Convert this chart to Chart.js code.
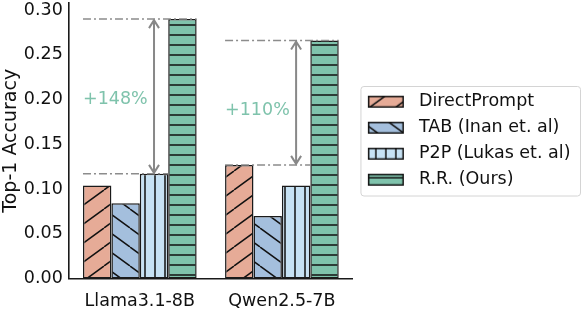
<!DOCTYPE html>
<html lang="en">
<head>
<meta charset="UTF-8">
<title>Top-1 Accuracy</title>
<script src="https://cdn.jsdelivr.net/npm/chart.js"></script>
<style>
  html, body { margin: 0; padding: 0; background: #fff; }
  #wrap { width: 582px; height: 310px; }
</style>
</head>
<body>
<div id="wrap"><canvas id="chart"></canvas></div>
<script>
const models = ['Llama3.1-8B', 'Qwen2.5-7B'];
const methods = ['DirectPrompt', 'TAB (Inan et. al)', 'P2P (Lukas et. al)', 'R.R. (Ours)'];
const directPrompt = [0.104, 0.127];
const tab = [0.084, 0.070];
const p2p = [0.117, 0.104];
const rrOurs = [0.290, 0.266];
const gainLabels = ['+148%', '+110%'];
const gainLabelY = [0.200, 0.188];
const yTicks = [0, 0.05, 0.10, 0.15, 0.20, 0.25, 0.30];

const fills = ['#e6ab97', '#a4bfdd', '#c7e2f4', '#7fc3ac'];
const hatches = ['/', '\\', '|', '-'];
const FONT = '"DejaVu Sans", sans-serif';

// hatch tile drawn like matplotlib: background colour + thin black lines
function hatchTile(color, kind) {
  const c = document.createElement('canvas');
  const diag = kind === '/' || kind === '\\';
  const w = diag ? 26 : 10, h = diag ? 19 : 10;
  c.width = w; c.height = h;
  const g = c.getContext('2d');
  g.fillStyle = color;
  g.fillRect(0, 0, w, h);
  g.strokeStyle = '#111';
  g.lineWidth = 1.5;
  g.beginPath();
  if (kind === '/') {
    for (let k = -1; k <= 1; k++) { g.moveTo(k * w, h); g.lineTo((k + 1) * w, 0); }
  } else if (kind === '\\') {
    for (let k = -1; k <= 1; k++) { g.moveTo(k * w, 0); g.lineTo((k + 1) * w, h); }
  } else if (kind === '|') {
    g.moveTo(w / 2, 0); g.lineTo(w / 2, h);
  } else {
    g.moveTo(0, h / 2); g.lineTo(w, h / 2);
  }
  g.stroke();
  return c;
}

function hatchPattern(ctx, i) {
  return ctx.createPattern(hatchTile(fills[i], hatches[i]), 'repeat');
}

function legendSwatch(i) {
  const c = document.createElement('canvas');
  c.width = 50; c.height = 14;
  const g = c.getContext('2d');
  g.fillStyle = g.createPattern(hatchTile(fills[i], hatches[i]), 'repeat');
  g.fillRect(7, 1, 36, 12);
  g.strokeStyle = '#111';
  g.lineWidth = 1.5;
  g.strokeRect(7.75, 1.75, 34.5, 10.5);
  return c;
}

const ctx = document.getElementById('chart').getContext('2d');

const gainMarks = {
  id: 'gainMarks',
  afterDatasetsDraw(chart) {
    const c = chart.ctx, y = chart.scales.y;
    const baselines = [directPrompt, tab, p2p];
    models.forEach((m, i) => {
      const first = chart.getDatasetMeta(0).data[i];
      const mid = chart.getDatasetMeta(2).data[i];
      const ours = chart.getDatasetMeta(3).data[i];
      const left = first.x - first.width / 2;
      const best = Math.max(...baselines.map(s => s[i]));
      const yTop = y.getPixelForValue(rrOurs[i]);
      const yBase = y.getPixelForValue(best);

      c.save();
      c.strokeStyle = '#8c8c8c';
      c.lineWidth = 1.5;
      c.setLineDash([8, 3, 2, 3]);
      c.beginPath();
      c.moveTo(left, yTop); c.lineTo(ours.x + ours.width / 2, yTop);
      c.moveTo(left, yBase); c.lineTo(ours.x - ours.width / 2, yBase);
      c.stroke();

      // double headed arrow
      c.setLineDash([]);
      c.lineWidth = 2;
      c.strokeStyle = '#888';
      const ax = mid.x;
      c.beginPath();
      c.moveTo(ax, yBase - 1); c.lineTo(ax, yTop + 1);
      c.moveTo(ax - 5, yTop + 9); c.lineTo(ax, yTop + 1); c.lineTo(ax + 5, yTop + 9);
      c.moveTo(ax - 5, yBase - 9); c.lineTo(ax, yBase - 1); c.lineTo(ax + 5, yBase - 9);
      c.stroke();

      c.fillStyle = '#7fc3ac';
      c.font = '17.5px ' + FONT;
      c.textAlign = 'left';
      c.textBaseline = 'middle';
      c.fillText(gainLabels[i], left, y.getPixelForValue(gainLabelY[i]));
      c.restore();
    });
  }
};

const legendFrame = {
  id: 'legendFrame',
  afterDraw(chart) {
    const hb = chart.legend.legendHitBoxes;
    if (!hb || !hb.length) return;
    const last = hb[hb.length - 1];
    const x0 = hb[0].left - 1, y0 = hb[0].top - 7;
    const x1 = chart.width - 2, y1 = last.top + last.height + 7;
    const c = chart.ctx;
    c.save();
    c.strokeStyle = '#d4d4d4';
    c.lineWidth = 1;
    c.beginPath();
    c.roundRect(x0 + 0.5, y0 + 0.5, x1 - x0, y1 - y0, 3);
    c.stroke();
    c.restore();
  }
};

new Chart(ctx, {
  type: 'bar',
  data: {
    labels: models,
    datasets: [directPrompt, tab, p2p, rrOurs].map((d, i) => ({
      label: methods[i],
      data: d,
      backgroundColor: hatchPattern(ctx, i),
      borderColor: '#1a1a1a',
      borderWidth: 1.5,
      borderSkipped: false,
      categoryPercentage: 0.8,
      barPercentage: 1.0
    }))
  },
  options: {
    responsive: true,
    maintainAspectRatio: false,
    animation: false,
    layout: { padding: { top: 3, left: 0, right: 1.5, bottom: -14.5 } },
    plugins: {
      tooltip: { enabled: false },
      legend: {
        position: 'right',
        fullSize: false,
        maxWidth: 260,
        labels: {
          font: { family: FONT, size: 17.5 },
          color: '#111',
          padding: 8.5,
          usePointStyle: true,
          pointStyleWidth: 48.75,
          generateLabels: () => methods.map((name, i) => ({
            text: name,
            pointStyle: legendSwatch(i),
            fillStyle: fills[i],
            strokeStyle: 'transparent',
            lineWidth: 0,
            hidden: false,
            datasetIndex: i,
            fontColor: '#111'
          }))
        }
      }
    },
    scales: {
      x: {
        grid: { display: false, drawTicks: false },
        border: { color: '#1a1a1a', width: 1.6 },
        ticks: { font: { family: FONT, size: 17.5 }, color: '#111', padding: 12.5 }
      },
      y: {
        min: 0,
        max: 0.308,
        afterBuildTicks: axis => { axis.ticks = yTicks.map(v => ({ value: v })); },
        afterFit: axis => { axis.paddingTop = 0; axis.paddingBottom = 0; axis.width -= 7; },
        grid: { display: false, drawTicks: false },
        border: { color: '#1a1a1a', width: 1.6 },
        ticks: {
          font: { family: FONT, size: 17.5 },
          color: '#111',
          padding: 6,
          callback: v => v.toFixed(2)
        },
        title: {
          display: true,
          text: 'Top-1 Accuracy',
          font: { family: FONT, size: 19 },
          color: '#111',
          padding: { top: 0, bottom: 2 }
        }
      }
    }
  },
  plugins: [gainMarks, legendFrame]
});
</script>
</body>
</html>
